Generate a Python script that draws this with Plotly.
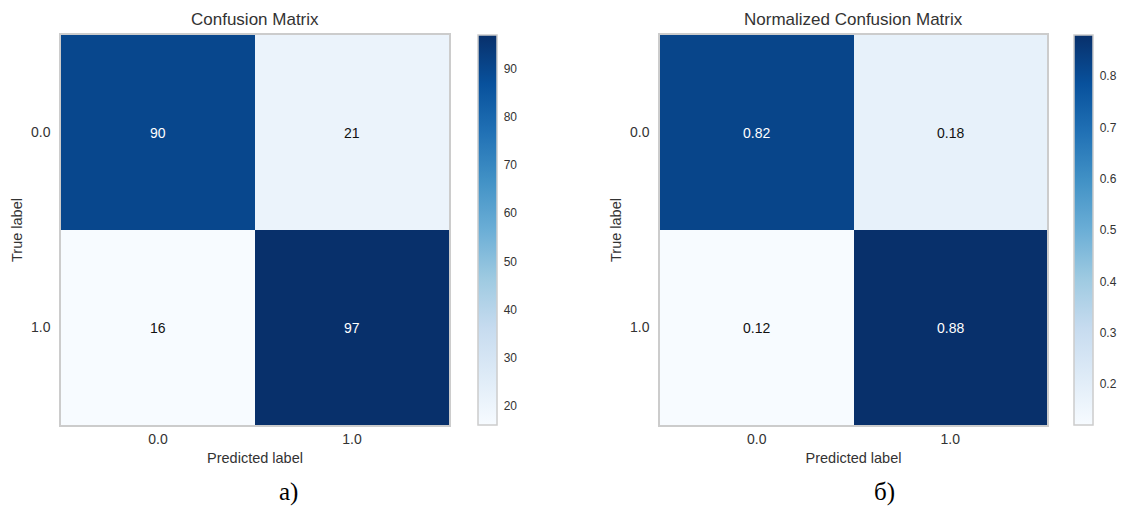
import plotly.graph_objects as go

# Data
labels = ["0.0", "1.0"]
cm_counts = [[90, 21], [16, 97]]
cm_norm = [[0.82, 0.18], [0.12, 0.88]]
titles = ["Confusion Matrix", "Normalized Confusion Matrix"]
panel_tags = ["а)", "б)"]

W, H = 1121, 507

def px_x(p):
    return p / W

def px_y(p):
    return 1 - p / H

FONT = "Liberation Sans, Arial, sans-serif"
fig = go.Figure()

panels = [
    dict(z=cm_counts, fmt="{:d}", x0=61, x1=449, cbx=478, cbticks=[20, 30, 40, 50, 60, 70, 80, 90], cbfmt="{:d}"),
    dict(z=cm_norm, fmt="{:.2f}", x0=660, x1=1047, cbx=1074, cbticks=[0.2, 0.3, 0.4, 0.5, 0.6, 0.7, 0.8], cbfmt="{:.1f}"),
]
y_top, y_bot = 35, 425

layout = dict(
    width=W, height=H, margin=dict(l=0, r=0, t=0, b=0),
    paper_bgcolor="white", plot_bgcolor="white",
    font=dict(family=FONT, color="#333333"),
    showlegend=False,
)
annotations = []
for i, p in enumerate(panels):
    ax = "" if i == 0 else str(i + 1)
    z = p["z"]
    zmin = min(min(r) for r in z)
    zmax = max(max(r) for r in z)
    fig.add_trace(go.Heatmap(
        z=z, x=[0, 1], y=[0, 1],
        xaxis="x" + ax, yaxis="y" + ax,
        colorscale="Blues", zmin=zmin, zmax=zmax,
        xgap=0, ygap=0, hoverinfo="skip",
        colorbar=dict(
            x=px_x(p["cbx"]), xanchor="left", xref="paper",
            y=px_y((y_top + y_bot) / 2), yanchor="middle",
            len=(y_bot - y_top) / H, lenmode="fraction",
            thickness=19, thicknessmode="pixels", ypad=0, xpad=0,
            outlinecolor="#cccccc", outlinewidth=1.5,
            tickvals=p["cbticks"], ticktext=[p["cbfmt"].format(v) for v in p["cbticks"]],
            ticks="outside", ticklen=4, tickcolor="rgba(0,0,0,0)",
            tickfont=dict(size=12, color="#333333", family=FONT),
        ),
    ))
    thr = (zmin + zmax) / 2
    for r in range(2):
        for c in range(2):
            v = z[r][c]
            annotations.append(dict(
                x=c, y=r, xref="x" + ax, yref="y" + ax,
                text=p["fmt"].format(v), showarrow=False,
                font=dict(size=14, color="white" if v > thr else "#111111", family=FONT),
            ))
    layout["xaxis" + ax] = dict(
        domain=[px_x(p["x0"]), px_x(p["x1"])], anchor="y" + ax,
        range=[-0.5, 1.5], tickvals=[0, 1], ticktext=labels,
        showgrid=False, zeroline=False, ticks="", ticklen=0,
        showline=True, linecolor="#cccccc", linewidth=1.5, mirror=True,
        tickfont=dict(size=14, color="#333333"),
        title=dict(text="Predicted label", font=dict(size=14.5, color="#333333"), standoff=7),
        fixedrange=True,
    )
    layout["yaxis" + ax] = dict(
        domain=[px_y(y_bot), px_y(y_top)], anchor="x" + ax,
        range=[1.5, -0.5], tickvals=[0, 1], ticktext=labels,
        showgrid=False, zeroline=False, ticks="outside", ticklen=6,
        tickcolor="rgba(0,0,0,0)",
        showline=True, linecolor="#cccccc", linewidth=1.5, mirror=True,
        tickfont=dict(size=14, color="#333333"),
        title=dict(text="True label", font=dict(size=14.5, color="#333333"), standoff=5),
        fixedrange=True,
    )
    cx = (p["x0"] + p["x1"]) / 2
    annotations.append(dict(
        x=px_x(cx), y=px_y(20), xref="paper", yref="paper",
        text=titles[i], showarrow=False, xanchor="center", yanchor="middle",
        font=dict(size=17, color="#333333", family=FONT),
    ))
tag_x = [288, 884]
for i, t in enumerate(panel_tags):
    annotations.append(dict(
        x=px_x(tag_x[i]), y=px_y(492), xref="paper", yref="paper",
        text=t, showarrow=False, xanchor="center", yanchor="middle",
        font=dict(size=25, color="#000000", family="Liberation Serif, Times New Roman, serif"),
    ))

layout["annotations"] = annotations
fig.update_layout(**layout)
fig.write_html("out.html")
